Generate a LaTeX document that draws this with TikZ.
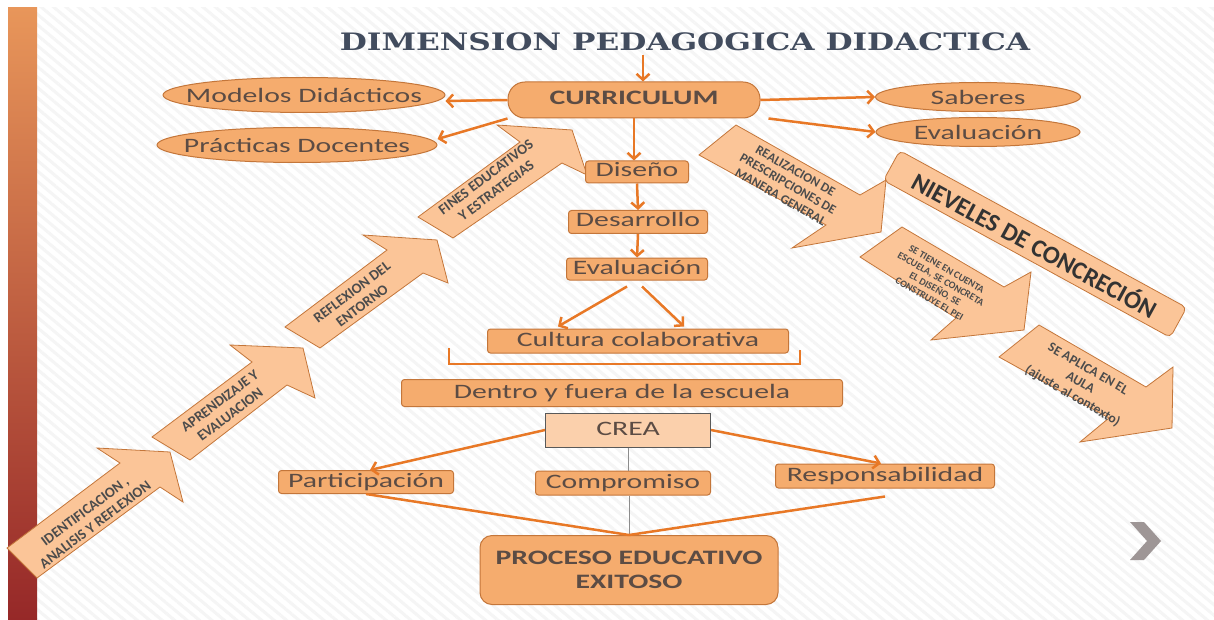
\documentclass[tikz,border=0pt]{standalone}
\usepackage{fontspec}
\setmainfont{Carlito}
\newfontfamily\slidefont[FakeStretch=1.45]{Carlito}
\newfontfamily\titlefont[FakeStretch=1.3]{DejaVu Serif}
\usetikzlibrary{positioning}
\usetikzlibrary{shapes.geometric}
\usetikzlibrary{arrows.meta}
\usetikzlibrary{calc}
\usetikzlibrary{patterns.meta}

\definecolor{nodefill}{RGB}{245,172,110}
\definecolor{arrowfill}{RGB}{251,197,152}
\definecolor{creafill}{RGB}{251,208,172}
\definecolor{edgebrown}{RGB}{196,118,58}
\definecolor{linkorange}{RGB}{232,120,38}
\definecolor{textbrown}{RGB}{92,76,68}
\definecolor{titleslate}{RGB}{66,76,94}
\definecolor{bartop}{RGB}{232,150,90}
\definecolor{barmid}{RGB}{240,120,20}
\definecolor{barbot}{RGB}{150,40,40}
\definecolor{chevgray}{RGB}{158,150,150}

\begin{document}
\begin{tikzpicture}[
  x=1pt, y=-1pt,
  txt/.style={font=\slidefont\fontsize{20.5}{24}\selectfont, text=textbrown},
  oval/.style={txt, ellipse, draw=edgebrown, fill=nodefill, line width=1pt, inner sep=0pt},
  box/.style={txt, rectangle, rounded corners=3pt, draw=edgebrown, fill=nodefill,
    line width=1pt, inner sep=0pt, text height=14pt, text depth=4pt},
  bigarrow/.style={draw=edgebrown, fill=arrowfill, line width=0.8pt},
  uplab/.style={font=\bfseries\fontsize{14.5}{17}\selectfont, text=black!70, align=center, rotate=37, inner sep=0pt},
  downlab/.style={font=\bfseries\fontsize{13}{15}\selectfont, text=black!70, align=center, rotate=-30, inner sep=0pt},
  link/.style={draw=linkorange, line width=2.5pt, -{Straight Barb[length=6pt,width=13pt]}},
  tie/.style={draw=linkorange, line width=2.5pt},
  thinlink/.style={draw=black!45, line width=0.8pt}
]

\useasboundingbox (0,0) rectangle (1214,620);

% --- background: stripes + side bar ---
\fill[white] (0,0) rectangle (1214,620);
\fill[pattern={Lines[angle=-40,distance=8pt,line width=3pt]}, pattern color=black!4] (37,8) rectangle (1214,620);
\shade[top color=bartop, middle color=barmid, bottom color=barbot] (8,8) rectangle (37,620);

% --- title ---
\node[font=\titlefont\bfseries\fontsize{24}{28}\selectfont, text=titleslate] (title) at (685,42) {DIMENSION PEDAGOGICA DIDACTICA};

% --- rising arrows (left) ---
\draw[bigarrow] (7,548) -- (120,463) -- (97,448) -- (170,452) -- (183,502) -- (160,487) -- (37,578) -- cycle;
\draw[bigarrow] (152,437) -- (252,362) -- (230,345) -- (303,348) -- (315,398) -- (287,385) -- (190,460) -- cycle;
\draw[bigarrow] (285,327) -- (387,250) -- (363,235) -- (437,240) -- (448,283) -- (423,273) -- (320,348) -- cycle;
\draw[bigarrow] (418,217) -- (520,142) -- (497,125) -- (572,130) -- (587,175) -- (562,163) -- (453,238) -- cycle;
\node[uplab] (ident) at (90,518) {IDENTIFICACION ,\\ANALISIS Y REFLEXION};
\node[uplab] (aprend) at (225,408) {APRENDIZAJE Y\\EVALUACION};
\node[uplab] (reflex) at (357,299) {REFLEXION DEL\\ENTORNO};
\node[uplab] (fines) at (491,184) {FINES EDUCATIVOS\\Y ESTRATEGIAS};

% --- levels banner + falling arrows (right) ---
\node[rectangle, rounded corners=5pt, draw=edgebrown, fill=arrowfill, line width=0.8pt,
  minimum width=327pt, minimum height=34pt, inner sep=0pt, rotate=-28.7,
  font=\bfseries\fontsize{25}{25}\selectfont, text=black!80] (niveles) at (1035,244) {NIEVELES DE CONCRECIÓN};
\draw[bigarrow] (736,125) -- (860,195) -- (886,180) -- (881,232) -- (792,248) -- (826,225) -- (699,155) -- cycle;
\draw[bigarrow] (902,227) -- (1004,287) -- (1031,272) -- (1024,330) -- (931,340) -- (956,318) -- (860,257) -- cycle;
\draw[bigarrow] (1039,325) -- (1146,387) -- (1173,367) -- (1172,428) -- (1080,442) -- (1109,418) -- (999,357) -- cycle;
\node[downlab] (realiz) at (788,184) {REALIZACION DE\\PRESCRIPCIONES DE\\MANERA GENERAL};
\node[downlab, font=\bfseries\fontsize{10}{11.5}\selectfont] (setiene) at (938,284) {SE TIENE EN CUENTA\\ESCUELA, SE CONCRETA\\EL DISEÑO, SE\\CONSTRUYE EL PEI};
\node[downlab, font=\bfseries\fontsize{13.5}{15.5}\selectfont] (aplica) at (1080,383) {SE APLICA EN EL\\AULA\\(ajuste al contexto)};

% --- curriculum and its satellites ---
\node[box, font=\slidefont\bfseries\fontsize{20.5}{24}\selectfont, rounded corners=17pt,
  minimum width=252pt, minimum height=36pt] (cur) at (634,100) {CURRICULUM};
\node[oval, minimum width=282pt, minimum height=35pt] (modelos) at (304,95) {\makebox[0pt]{Modelos Didácticos}};
\node[oval, minimum width=280pt, minimum height=35pt] (practicas) at (297,145) {\makebox[0pt]{Prácticas Docentes}};
\node[oval, minimum width=205pt, minimum height=29pt] (saberes) at (978,97) {\makebox[0pt]{Saberes}};
\node[oval, minimum width=204pt, minimum height=29pt] (evalr) at (978,132) {\makebox[0pt]{Evaluación}};

% --- central chain ---
\node[box, minimum width=103pt, minimum height=22pt] (dis) at (637,172) {Diseño};
\node[box, minimum width=139pt, minimum height=23pt] (des) at (638,222) {Desarrollo};
\node[box, minimum width=141pt, minimum height=22pt] (eval) at (637,269) {Evaluación};
\node[box, minimum width=301pt, minimum height=24pt] (cult) at (638,341) {Cultura colaborativa};
\node[box, minimum width=441pt, minimum height=27pt] (dentro) at (622,393) {Dentro y fuera de la escuela};
\node[box, rounded corners=0pt, draw=black!65, fill=creafill, minimum width=165pt, minimum height=34pt] (crea) at (628,430) {CREA};
\node[box, minimum width=175pt, minimum height=23pt] (part) at (366,482) {Participación};
\node[box, minimum width=175pt, minimum height=24pt] (comp) at (623,483) {Compromiso};
\node[box, minimum width=219pt, minimum height=24pt] (resp) at (885,476) {Responsabilidad};
\node[box, font=\slidefont\bfseries\fontsize{20.5}{24}\selectfont, rounded corners=12pt, align=center,
  text height=, text depth=, minimum width=298pt, minimum height=69pt] (proc) at (629,570) {PROCESO EDUCATIVO\\EXITOSO};

% --- connectors ---
\draw[link] ([xshift=9pt]cur.north |- title.south) -- ([xshift=9pt]cur.north);
\draw[link] (cur.west) -- ([yshift=-6pt]modelos.east);
\draw[link] (cur.south west) -- ([yshift=6pt]practicas.east);
\draw[link] (cur.east) -- (saberes.west);
\draw[link] ([xshift=8pt]cur.south east) -- (evalr.west);
\draw[link] (cur.south) -- (cur.south |- dis.north);
\draw[link] (dis.south) -- (des.north);
\draw[link] (des.south) -- (eval.north);
\draw[link] ([xshift=-10pt,yshift=-6pt]eval.south) -- ([xshift=-80pt,yshift=2pt]cult.north);
\draw[link] ([xshift=5pt,yshift=-6pt]eval.south) -- ([xshift=46pt,yshift=2pt]cult.north);
\draw[tie, line width=2pt] (449,348) -- (449,364) -- (800,364) -- (800,350);
\draw[link] (crea.west) -- ([xshift=4pt]part.north);
\draw[link] (crea.east) -- ([xshift=-4pt]resp.north);
\draw[thinlink] (crea.south) -- (crea.south |- comp.north);
\draw[thinlink] (comp.south -| proc.north) -- (proc.north);
\draw[tie] (part.south) -- (proc.north);
\draw[tie] ([yshift=-8pt]resp.south) -- (proc.north);

% --- next-slide chevron ---
\fill[chevgray] (1130,522) -- (1144,522) -- (1161,541) -- (1144,560) -- (1130,560) -- (1147,541) -- cycle;

\end{tikzpicture}
\end{document}
